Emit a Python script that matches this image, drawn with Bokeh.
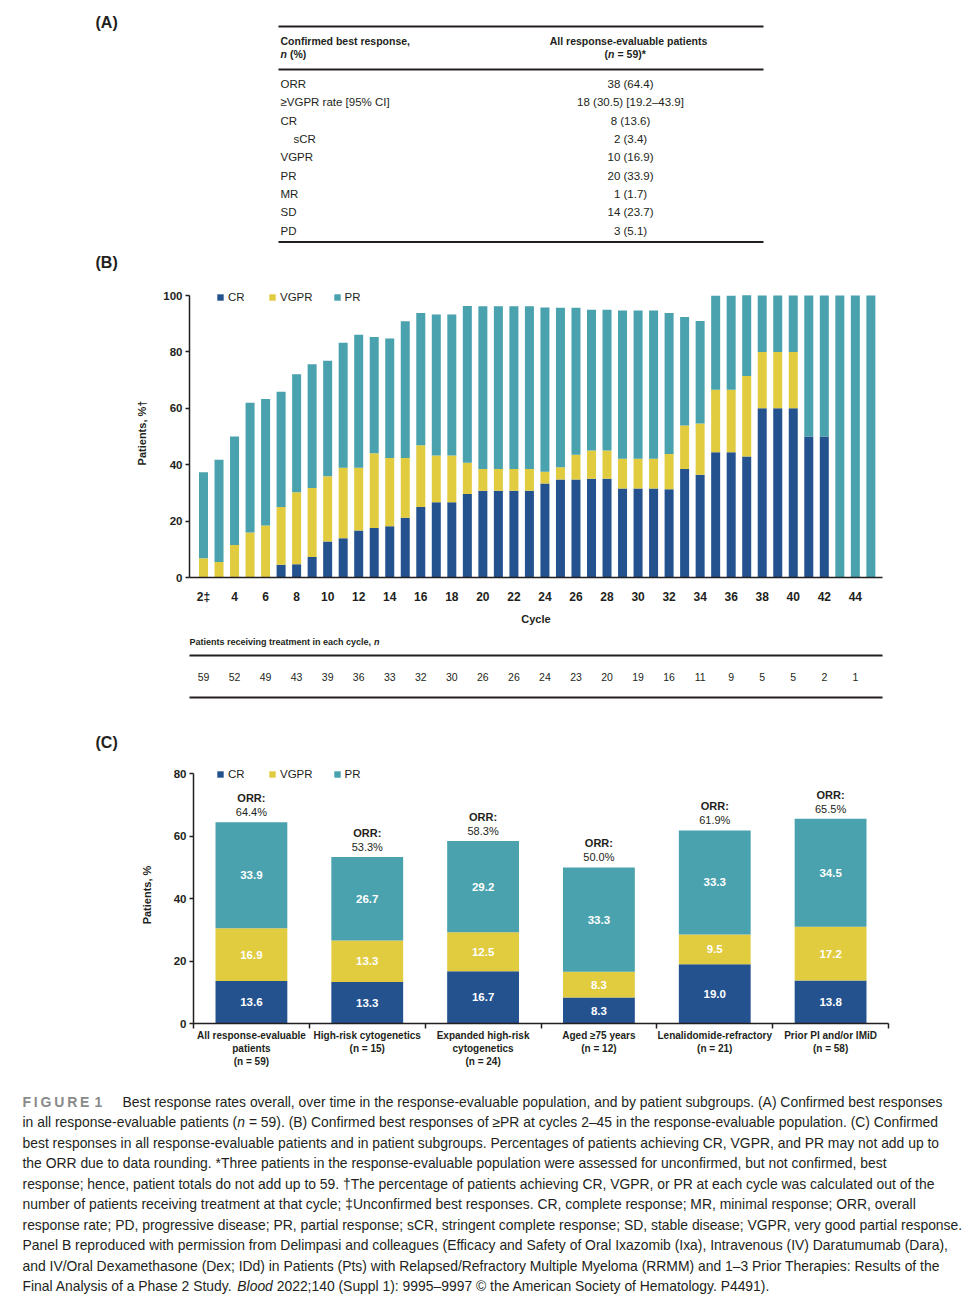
from bokeh.plotting import figure
from bokeh.models import Range1d, FixedTicker, Legend, LegendItem, ColumnDataSource
from bokeh.layouts import column
from bokeh.embed import file_html
from bokeh.resources import INLINE
from bokeh.core.properties import value

FONT = "Liberation Sans"
INK = "#231f20"
C_CR, C_VGPR, C_PR = "#23528f", "#e1cb3f", "#49a2ae"
W = 978

# ---------------- data ----------------
# Panel A
response_labels = ["ORR", "≥VGPR rate [95% CI]", "CR", "sCR", "VGPR", "PR", "MR", "SD", "PD"]
response_level = [0, 0, 0, 1, 0, 0, 0, 0, 0]
response_values = ["38 (64.4)", "18 (30.5) [19.2–43.9]", "8 (13.6)", "2 (3.4)", "10 (16.9)",
                   "20 (33.9)", "1 (1.7)", "14 (23.7)", "3 (5.1)"]

# Panel B
cycles = list(range(2, 46))
cycle_cr = [0, 0, 0, 0, 0, 4.5, 4.7, 7.3, 12.8, 13.9, 16.7, 17.6, 18.2, 21.2, 25.0, 26.7, 26.7,
            29.6, 30.8, 30.8, 30.8, 30.8, 33.3, 34.8, 34.8, 35.0, 35.0, 31.6, 31.6, 31.6, 31.3,
            38.5, 36.4, 44.4, 44.4, 42.9, 60, 60, 60, 50, 50, 0, 0, 0]
cycle_vgpr = [6.8, 5.5, 11.5, 16.0, 18.4, 20.5, 25.5, 24.4, 23.1, 25.0, 22.2, 26.5, 24.2, 21.2,
              21.9, 16.6, 16.6, 11.1, 7.7, 7.7, 7.7, 7.7, 4.2, 4.3, 8.7, 10.0, 10.0, 10.5, 10.5,
              10.5, 12.5, 15.4, 18.2, 22.2, 22.2, 28.6, 20, 20, 20, 0, 0, 0, 0, 0]
cycle_pr = [30.5, 36.3, 38.5, 46.0, 44.9, 40.9, 41.9, 43.9, 41.0, 44.4, 47.2, 41.2, 42.4, 48.5,
            46.9, 50.0, 50.0, 55.6, 57.7, 57.7, 57.7, 57.7, 58.3, 56.6, 52.2, 50.0, 50.0, 52.6,
            52.6, 52.6, 50.0, 38.5, 36.4, 33.3, 33.3, 28.6, 20, 20, 20, 50, 50, 100, 100, 100]
tick_cycles = list(range(2, 46, 2))
n_patients = [59, 52, 49, 43, 39, 36, 33, 32, 30, 26, 26, 24, 23, 20, 19, 16, 11, 9, 5, 5, 2, 1]

# Panel C
subgroups = ["All response-evaluable\npatients\n(n = 59)", "High-risk cytogenetics\n(n = 15)",
             "Expanded high-risk\ncytogenetics\n(n = 24)", "Aged ≥75 years\n(n = 12)",
             "Lenalidomide-refractory\n(n = 21)", "Prior PI and/or IMiD\n(n = 58)"]
sub_cr = [13.6, 13.3, 16.7, 8.3, 19.0, 13.8]
sub_vgpr = [16.9, 13.3, 12.5, 8.3, 9.5, 17.2]
sub_pr = [33.9, 26.7, 29.2, 33.3, 33.3, 34.5]
sub_orr = [64.4, 53.3, 58.3, 50.0, 61.9, 65.5]

# Caption: each line is a list of (text, style, x)
caption_lines = [
    [("Best response rates overall, over time in the response-evaluable population, and by patient subgroups. (A) Confirmed best responses", "normal", 122)],
    [("in all response-evaluable patients (", "normal", 22), ("n", "italic", 236.8),
     ("= 59). (B) Confirmed best responses of ≥PR at cycles 2–45 in the response-evaluable population. (C) Confirmed", "normal", 248.4)],
    [("best responses in all response-evaluable patients and in patient subgroups. Percentages of patients achieving CR, VGPR, and PR may not add up to", "normal", 22)],
    [("the ORR due to data rounding. *Three patients in the response-evaluable population were assessed for unconfirmed, but not confirmed, best", "normal", 22)],
    [("response; hence, patient totals do not add up to 59. †The percentage of patients achieving CR, VGPR, or PR at each cycle was calculated out of the", "normal", 22)],
    [("number of patients receiving treatment at that cycle; ‡Unconfirmed best responses. CR, complete response; MR, minimal response; ORR, overall", "normal", 22)],
    [("response rate; PD, progressive disease; PR, partial response; sCR, stringent complete response; SD, stable disease; VGPR, very good partial response.", "normal", 22)],
    [("Panel B reproduced with permission from Delimpasi and colleagues (Efficacy and Safety of Oral Ixazomib (Ixa), Intravenous (IV) Daratumumab (Dara),", "normal", 22)],
    [("and IV/Oral Dexamethasone (Dex; IDd) in Patients (Pts) with Relapsed/Refractory Multiple Myeloma (RRMM) and 1–3 Prior Therapies: Results of the", "normal", 22)],
    [("Final Analysis of a Phase 2 Study.", "normal", 22), ("Blood", "italic", 236.8),
     ("2022;140 (Suppl 1): 9995–9997 © the American Society of Hematology. P4491).", "normal", 276.2)],
]


def txt(p, x, y, s, size, style="normal", align="left", color=INK, baseline="middle", **kw):
    if not isinstance(x, list):
        x, y, s = [x], [y], [s]
    p.text(x=x, y=y, text=s, text_font=value(FONT), text_font_size=size, text_font_style=style,
           text_align=align, text_baseline=baseline, text_color=color, **kw)


def blank(h, x_range, y_top, y_bottom):
    p = figure(width=W, height=h, x_range=x_range, y_range=Range1d(y_bottom, y_top),
               output_backend="svg", toolbar_location=None, x_axis_location=None,
               y_axis_location=None, min_border_left=0, min_border_right=0,
               min_border_top=0, min_border_bottom=0, frame_align=False)
    p.outline_line_color = None
    p.grid.visible = False
    return p


def style_axes(p):
    p.grid.visible = False
    p.outline_line_color = None
    for ax in p.axis:
        ax.axis_line_color = INK
        ax.axis_line_width = 1.5
        ax.major_tick_line_color = INK
        ax.major_tick_line_width = 1.5
        ax.minor_tick_line_color = None
        ax.major_label_text_font = FONT
        ax.major_label_text_font_style = "bold"
        ax.major_label_text_color = INK
        ax.axis_label_text_font = FONT
        ax.axis_label_text_font_style = "bold"
        ax.axis_label_text_color = INK
        ax.axis_label_text_font_size = "11px"


def legend(p, renderers, loc):
    items = [LegendItem(label=l, renderers=[r]) for l, r in zip(["CR", "VGPR", "PR"], renderers)]
    lg = Legend(items=items, orientation="horizontal", location=loc, padding=0, margin=0,
                spacing=20, glyph_width=8, glyph_height=8, label_height=12, label_standoff=4,
                label_text_font=FONT, label_text_font_size="11.5px", label_text_color=INK,
                border_line_color=None, background_fill_alpha=0)
    p.add_layout(lg)


# ---------------- Panel A (table) ----------------
pA = blank(275, Range1d(0, W), 0, 275)
txt(pA, 95, 22, "(A)", "16px", "bold")
txt(pA, 95, 262, "(B)", "16px", "bold")
pA.segment(x0=[278, 278, 278], x1=[763, 763, 763], y0=[26, 69, 241.5], y1=[26, 69, 241.5],
           line_color=INK, line_width=2)
txt(pA, 280, 40, "Confirmed best response,", "10.5px", "bold")
txt(pA, 280, 53.3, "n", "10.5px", "bold italic")
txt(pA, 289.5, 53.3, "(%)", "10.5px", "bold")
txt(pA, 628, 40, "All response-evaluable patients", "10.5px", "bold", "center")
txt(pA, 604, 53.3, "(", "10.5px", "bold")
txt(pA, 607.6, 53.3, "n", "10.5px", "bold italic")
txt(pA, 617, 53.3, "= 59)*", "10.5px", "bold")
row_y = [83.3 + 18.35 * i for i in range(len(response_labels))]
txt(pA, [280 + 13 * lv for lv in response_level], row_y, response_labels, "11.5px")
txt(pA, [630] * len(response_values), row_y, response_values, "11.5px", align="center")

# ---------------- Panel B (bars) ----------------
B_LEFT, B_RIGHT = 189, 96
XS, XE = 1.098, 45.75
pB = figure(width=W, height=355, x_range=Range1d(XS, XE), y_range=Range1d(0, 102.5),
            output_backend="svg", toolbar_location=None, min_border_left=B_LEFT,
            min_border_right=B_RIGHT, min_border_top=13, min_border_bottom=53, frame_align=False)
srcB = ColumnDataSource(dict(cycle=cycles, cr=cycle_cr, vgpr=cycle_vgpr, pr=cycle_pr))
rB = pB.vbar_stack(["cr", "vgpr", "pr"], x="cycle", width=0.58, source=srcB,
                   fill_color=[C_CR, C_VGPR, C_PR], line_color=None)
style_axes(pB)
pB.xaxis.ticker = FixedTicker(ticks=tick_cycles)
pB.xaxis.major_label_overrides = {2: "2‡"}
pB.xaxis.major_tick_line_color = None
pB.xaxis.major_tick_out = 0
pB.xaxis.major_tick_in = 0
pB.xaxis.major_label_standoff = 12
pB.xaxis.major_label_text_font_size = "12px"
pB.xaxis.axis_label = "Cycle"
pB.xaxis.axis_label_standoff = 6
pB.yaxis.ticker = FixedTicker(ticks=[0, 20, 40, 60, 80, 100])
pB.yaxis.bounds = (0, 100)
pB.yaxis.major_tick_out = 4
pB.yaxis.major_tick_in = 0
pB.yaxis.major_label_standoff = 3
pB.yaxis.major_label_text_font_size = "11.5px"
pB.yaxis.axis_label = "Patients, %†"
pB.yaxis.axis_label_standoff = 12
legend(pB, rB, (27, 274.5))

# ---------------- Panel B (patients per cycle) + (C) label ----------------
scale_B = (W - B_LEFT - B_RIGHT) / (XE - XS)
pN = blank(130, Range1d(XS - B_LEFT / scale_B, XE + B_RIGHT / scale_B), 630, 760)
txt(pN, XS, 641, "Patients receiving treatment in each cycle,", "9px", "bold")
txt(pN, XS, 641, "n", "9px", "bold italic", x_offset=184.5)
pN.segment(x0=[XS, XS], x1=[XE, XE], y0=[655, 697], y1=[655, 697], line_color=INK, line_width=2)
txt(pN, tick_cycles, [676] * len(n_patients), [str(v) for v in n_patients], "10.5px",
    align="center")
txt(pN, XS - (B_LEFT - 95) / scale_B, 742, "(C)", "16px", "bold")

# ---------------- Panel C ----------------
pC = figure(width=W, height=320, x_range=Range1d(0, 6), y_range=Range1d(0, 82.24),
            output_backend="svg", toolbar_location=None, min_border_left=193,
            min_border_right=90, min_border_top=6, min_border_bottom=57, frame_align=False)
xpos = [i + 0.5 for i in range(len(subgroups))]
srcC = ColumnDataSource(dict(x=xpos, cr=sub_cr, vgpr=sub_vgpr, pr=sub_pr))
rC = pC.vbar_stack(["cr", "vgpr", "pr"], x="x", width=0.62, source=srcC,
                   fill_color=[C_CR, C_VGPR, C_PR], line_color=None)
mid_cr = [c / 2 for c in sub_cr]
mid_vg = [c + v / 2 for c, v in zip(sub_cr, sub_vgpr)]
mid_pr = [c + v + r / 2 for c, v, r in zip(sub_cr, sub_vgpr, sub_pr)]
for mids, vals in ((mid_cr, sub_cr), (mid_vg, sub_vgpr), (mid_pr, sub_pr)):
    txt(pC, xpos, mids, [f"{v:.1f}" for v in vals], "11.5px", "bold", "center", color="white")
txt(pC, xpos, [o + 7.7 for o in sub_orr], ["ORR:"] * len(sub_orr), "11px", "bold", "center")
txt(pC, xpos, [o + 3.2 for o in sub_orr], [f"{o:.1f}%" for o in sub_orr], "11px", "normal",
    "center")
style_axes(pC)
pC.xaxis.ticker = FixedTicker(ticks=xpos, minor_ticks=list(range(len(subgroups) + 1)))
pC.xaxis.major_label_overrides = {x: s for x, s in zip(xpos, subgroups)}
pC.xaxis.major_tick_line_color = None
pC.xaxis.major_tick_out = 0
pC.xaxis.major_tick_in = 0
pC.xaxis.minor_tick_line_color = INK
pC.xaxis.minor_tick_line_width = 1.5
pC.xaxis.minor_tick_out = 5
pC.xaxis.minor_tick_in = 0
pC.xaxis.major_label_standoff = 1
pC.xaxis.major_label_text_font_size = "10px"
pC.xaxis.major_label_text_line_height = 1.2
pC.yaxis.ticker = FixedTicker(ticks=[0, 20, 40, 60, 80])
pC.yaxis.bounds = (0, 80)
pC.yaxis.major_tick_out = 4
pC.yaxis.major_tick_in = 0
pC.yaxis.major_label_standoff = 3
pC.yaxis.major_label_text_font_size = "11.5px"
pC.yaxis.axis_label = "Patients, %"
pC.yaxis.axis_label_standoff = 18
legend(pC, rC, (23, 243.5))

# ---------------- Caption ----------------
pT = blank(220, Range1d(0, W), 1080, 1300)
txt(pT, 22, 1101, "F\u2009I\u2009G\u2009U\u2009R\u2009E", "14px", "bold", color="#8a8a8a")
txt(pT, 94, 1101, "1", "14px", "bold", color="#8a8a8a")
for i, segs in enumerate(caption_lines):
    y = 1101 + 20.5 * i
    for s, st, x in segs:
        txt(pT, x, y, s, "13.9px", st)

page = column(pA, pB, pN, pC, pT)
open("out.html", "w").write(file_html(page, INLINE))
